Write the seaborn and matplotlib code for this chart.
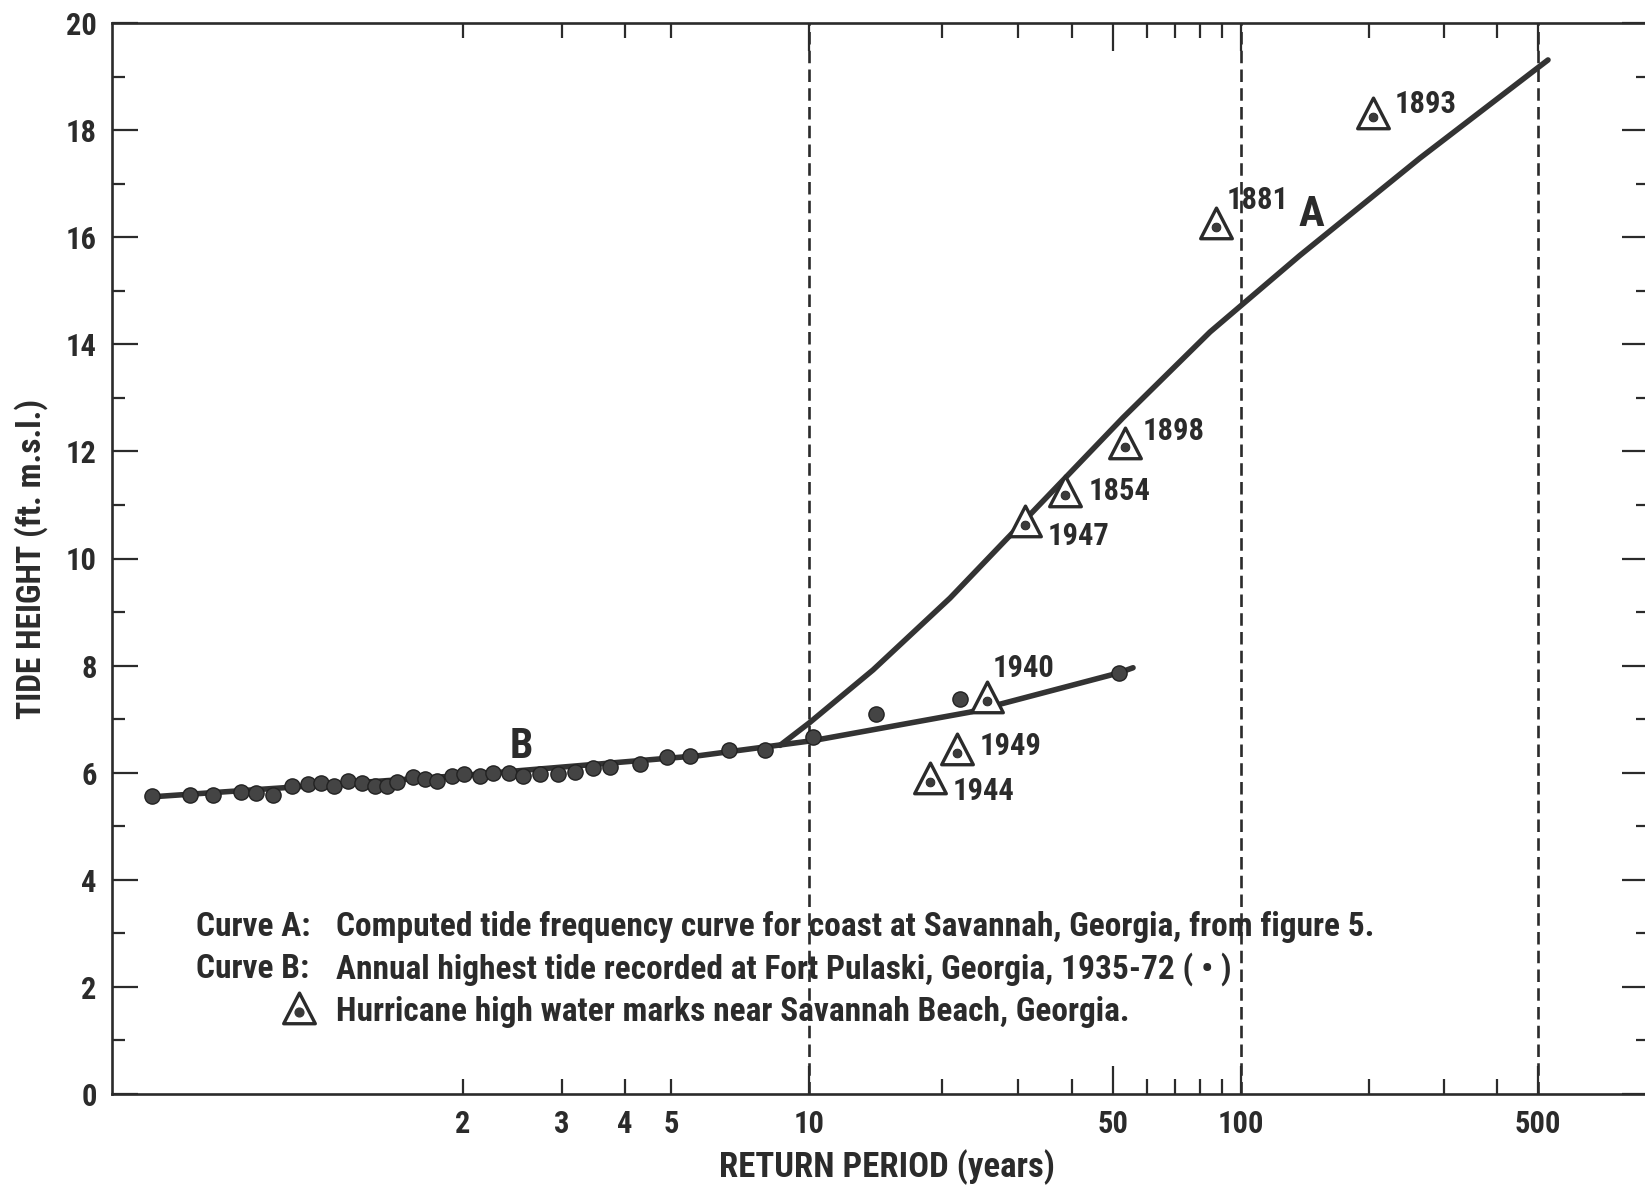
import numpy as np
import pandas as pd
import matplotlib
matplotlib.use("Agg")
import matplotlib.pyplot as plt
import seaborn as sns
from matplotlib import font_manager
from matplotlib.path import Path

# annual highest tides, Fort Pulaski 1935-72 (return period in years, tide in ft)
b_period = [1.024, 1.049, 1.072, 1.109, 1.134, 1.167, 1.209, 1.249, 1.287, 1.328,
            1.378, 1.429, 1.485, 1.539, 1.588, 1.672, 1.744, 1.820, 1.918, 2.008,
            2.135, 2.250, 2.400, 2.538, 2.731, 2.958, 3.185, 3.459, 3.736, 4.301,
            4.902, 5.477, 6.658, 7.968, 10.21, 14.15, 22.05, 51.65]
b_tide = [5.56, 5.58, 5.59, 5.64, 5.62, 5.58, 5.76, 5.78, 5.81, 5.75,
          5.85, 5.81, 5.76, 5.76, 5.83, 5.92, 5.89, 5.85, 5.93, 5.97,
          5.94, 5.99, 5.99, 5.94, 5.98, 5.98, 6.01, 6.09, 6.11, 6.16,
          6.29, 6.31, 6.43, 6.42, 6.66, 7.09, 7.37, 7.87]

# curve B (through the gauge data)
curve_b_period = [1.024, 2.0, 5.75, 10.2, 23.2, 51.4, 55.7]
curve_b_tide = [5.55, 5.95, 6.32, 6.60, 7.13, 7.86, 7.96]

# curve A (computed tide frequency curve)
curve_a_period = [8.6, 10.03, 13.93, 20.9, 31.16, 52.77, 84.4, 137.3, 263.6, 527.9]
curve_a_tide = [6.51, 6.94, 7.92, 9.26, 10.72, 12.63, 14.23, 15.66, 17.48, 19.31]

# hurricane high water marks
h_year = ["1893", "1881", "1898", "1854", "1947", "1940", "1949", "1944"]
h_period = [204.0, 87.1, 53.3, 38.6, 31.2, 25.4, 21.65, 18.8]
h_tide = [18.25, 16.19, 12.08, 11.18, 10.62, 7.34, 6.36, 5.83]
# label offsets in pixels (right, up)
h_offset = [(22, 13), (11, 27), (18, 16), (24, 4), (22, -11), (6, 33), (23, 7), (23, -9)]

x_labeled = [2, 3, 4, 5, 10, 50, 100, 500]
x_major = [10, 50, 100, 500]
x_minor = [2, 3, 4, 5, 20, 30, 40, 60, 70, 80, 90, 200, 300, 400]
x_dashed = [10, 100, 500]

df_b = pd.DataFrame({"period": b_period, "tide": b_tide})
df_h = pd.DataFrame({"period": h_period, "tide": h_tide, "year": h_year})
df_ca = pd.DataFrame({"period": curve_a_period, "tide": curve_a_tide})
df_cb = pd.DataFrame({"period": curve_b_period, "tide": curve_b_tide})


def gumbel(t):
    t = np.asarray(t, dtype=float)
    with np.errstate(all="ignore"):
        return -np.log(-np.log(1.0 - 1.0 / t))


def gumbel_inv(y):
    y = np.asarray(y, dtype=float)
    with np.errstate(all="ignore"):
        return 1.0 / (1.0 - np.exp(-np.exp(-y)))


sns.set_style("ticks")
names = {f.name for f in font_manager.fontManager.ttflist}
fams = [n for n in ["Roboto Condensed", "Archivo Narrow", "Liberation Sans Narrow"] if n in names]
plt.rcParams["font.family"] = fams + ["DejaVu Sans"]
plt.rcParams["font.weight"] = "bold"
plt.rcParams["axes.labelweight"] = "bold"
plt.rcParams["lines.scale_dashes"] = False

ink = "#2b2b2b"
W, H = 1645, 1189
fig = plt.figure(figsize=(W / 100, H / 100), dpi=100)
ax = fig.add_axes([112 / W, 1 - 1094 / H, (1648 - 112) / W, (1094 - 23) / H])

ax.set_xscale("function", functions=(gumbel, gumbel_inv))
ax.set_xlim(1.0094, 909)
ax.set_ylim(0, 20)

for t in x_dashed:
    ax.axvline(t, color=ink, lw=1.9, dashes=(9, 4.5), zorder=1)

sns.lineplot(data=df_cb, x="period", y="tide", sort=False, estimator=None,
             color="#333333", lw=4.0, ax=ax, zorder=2)
sns.lineplot(data=df_ca, x="period", y="tide", sort=False, estimator=None,
             color="#333333", lw=4.0, ax=ax, zorder=2)
sns.scatterplot(data=df_b, x="period", y="tide", s=120, color="#444444",
                edgecolor="#222222", linewidth=1.0, ax=ax, zorder=3)

tri = Path([(0, 1.0), (-0.816, -0.579), (0.816, -0.579), (0, 1.0)],
           [Path.MOVETO, Path.LINETO, Path.LINETO, Path.CLOSEPOLY])
sns.scatterplot(data=df_h, x="period", y="tide", marker=tri, s=780,
                facecolor="white", edgecolor=ink, linewidth=2.4, ax=ax, zorder=4)
sns.scatterplot(data=df_h, x="period", y="tide", s=40, color="#3a3a3a",
                edgecolor="#222222", linewidth=0.6, ax=ax, zorder=5)

for yr, t, v, (dx, dy) in zip(h_year, h_period, h_tide, h_offset):
    ax.annotate(yr, (t, v), xytext=(dx, dy), textcoords="offset pixels",
                ha="left", va="center", fontsize=22, color=ink)

ax.text(145.8, 16.43, "A", fontsize=31, color=ink, ha="center", va="center")
ax.text(2.52, 6.49, "B", fontsize=30, color=ink, ha="center", va="center")

# axes, ticks
ax.set_xticks(x_major, labels=[str(t) for t in x_major])
ax.set_xticks(x_minor, labels=[str(t) if t in x_labeled else "" for t in x_minor],
              minor=True)
ax.set_yticks(range(0, 21, 2))
ax.set_yticks(range(1, 20, 2), minor=True)
ax.tick_params(axis="both", which="both", direction="in", top=True, right=True,
               colors=ink, labelsize=22, width=1.6)
ax.tick_params(axis="x", which="major", length=20, pad=11)
ax.tick_params(axis="x", which="minor", length=11, pad=11)
ax.tick_params(axis="y", which="major", length=19, pad=11)
ax.tick_params(axis="y", which="minor", length=9)
for s in ax.spines.values():
    s.set_linewidth(1.9)
    s.set_color(ink)

ax.set_xlabel("RETURN PERIOD (years)", fontsize=25, color=ink, va="center")
ax.xaxis.set_label_coords(0.5046, -0.0686)
ax.set_ylabel("TIDE HEIGHT (ft. m.s.l.)", fontsize=24, color=ink, va="center")
ax.yaxis.set_label_coords(-0.0527, 0.50)

# key
key_fs = 24
fig.text(196 / W, 1 - 927 / H, "Curve A:", fontsize=key_fs, color=ink, va="center")
fig.text(336 / W, 1 - 927 / H,
         "Computed tide frequency curve for coast at Savannah, Georgia, from figure 5.",
         fontsize=key_fs, color=ink, va="center")
fig.text(196 / W, 1 - 969 / H, "Curve B:", fontsize=key_fs, color=ink, va="center")
fig.text(336 / W, 1 - 969 / H,
         "Annual highest tide recorded at Fort Pulaski, Georgia, 1935-72 ( \u2022 )",
         fontsize=key_fs, color=ink, va="center")
fig.text(336 / W, 1 - 1012 / H,
         "Hurricane high water marks near Savannah Beach, Georgia.",
         fontsize=key_fs, color=ink, va="center")
ax.scatter([299 / W], [1 - 1012 / H], marker=tri, s=780, facecolor="white",
           edgecolor=ink, linewidth=2.4, transform=fig.transFigure, clip_on=False,
           zorder=6)
ax.scatter([299 / W], [1 - 1012 / H], s=40, color="#3a3a3a",
           transform=fig.transFigure, clip_on=False, zorder=7)

fig.savefig("out.png", dpi=100)
